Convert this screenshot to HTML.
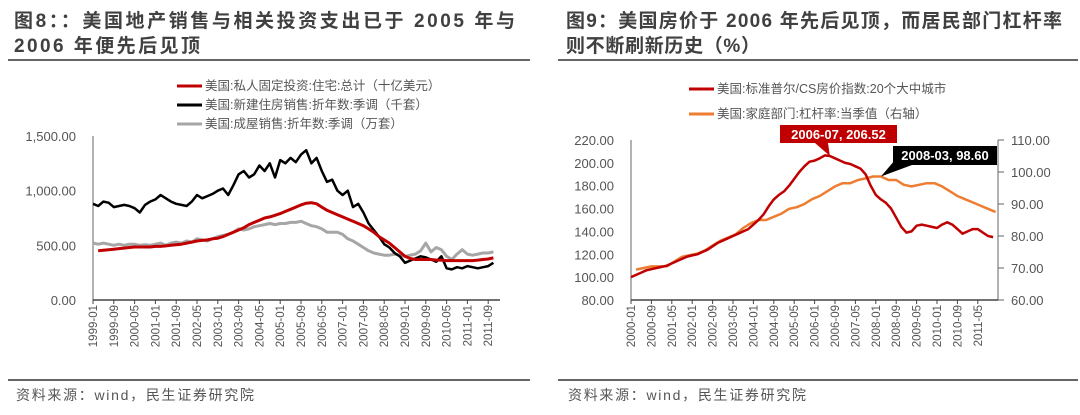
<!DOCTYPE html>
<html><head><meta charset="utf-8"><style>
body{margin:0;width:1080px;height:410px;background:#fff;overflow:hidden;font-family:"Liberation Sans","Noto Sans CJK SC",sans-serif;}
svg text{font-family:"Liberation Sans","Noto Sans CJK SC",sans-serif;}
</style></head><body>
<svg id="s" width="1080" height="410">
<g font-size="19" font-weight="bold" fill="#404040">
<text x="14" y="27" textLength="501" lengthAdjust="spacing">图8：：美国地产销售与相关投资支出已于 2005 年与</text>
<text x="14" y="52" textLength="186" lengthAdjust="spacing">2006 年便先后见顶</text></g>
<g font-size="19" font-weight="bold" fill="#404040">
<text x="566" y="27" textLength="496" lengthAdjust="spacing">图9：美国房价于 2006 年先后见顶，而居民部门杠杆率</text>
<text x="566" y="52" textLength="194" lengthAdjust="spacing">则不断刷新历史（%）</text></g>
<rect x="8" y="59" width="522" height="2" fill="#666"/>
<rect x="558" y="59" width="520" height="2" fill="#666"/>
<rect x="8" y="379" width="522" height="2" fill="#666"/>
<rect x="558" y="379" width="520" height="2" fill="#666"/>
<text x="16" y="400" font-size="14" fill="#555" textLength="238" lengthAdjust="spacing">资料来源：wind，民生证券研究院</text>
<text x="568" y="400" font-size="14" fill="#555" textLength="238" lengthAdjust="spacing">资料来源：wind，民生证券研究院</text>
<g id="L"></g><g id="R"></g>
</svg>
<script>
// Left chart data (2-month steps from 1999-01)
const leftYTicks=[0,500,1000,1500];
const leftYLabels=["0.00","500.00","1,000.00","1,500.00"];
const leftXLabels=["1999-01","1999-09","2000-05","2001-01","2001-09","2002-05","2003-01","2003-09","2004-05","2005-01","2005-09","2006-05","2007-01","2007-09","2008-05","2009-01","2009-09","2010-05","2011-01","2011-09"];
const newHomeSales=[880,860,900,890,850,860, 870,860,840,800,870,900, 920,960,930,900,880,870, 860,900,960,930,950,970, 1000,1020,960,1050,1150,1180, 1120,1150,1230,1180,1250,1120, 1280,1250,1300,1260,1330,1370, 1250,1300,1180,1080,1100,1000, 960,1000,850,880,800,700, 640,580,510,480,430,400, 340,360,380,400,390,370, 350,400,290,280,300,290, 310,300,290,300,310,340];
const existingSales=[520,510,520,510,500,510, 500,510,510,500,505,500, 510,520,500,520,530,520, 540,530,560,550,540,560, 580,590,600,620,650,640, 650,670,680,690,700,690, 700,700,710,710,720,700, 680,670,650,620,620,620, 600,560,540,510,480,450, 430,420,410,410,420,410, 400,410,420,450,520,440, 480,460,400,370,420,460, 420,410,420,430,430,440];
const resInvestment=[null,450,455,460,465,470, 475,480,485,485,485,485, 490,490,495,500,505,510, 520,530,540,545,550,560, 565,580,600,620,640,660, 690,710,730,750,760,775, 790,810,830,850,870,885, 890,880,850,820,800,780, 760,740,720,700,680,650, 620,580,550,520,480,440, 400,380,370,370,370,370, 365,365,360,360,360,360, 360,360,365,370,375,385];
// Right chart data
const rightYTicks=[80,100,120,140,160,180,200,220];
const rightY2Ticks=[60,70,80,90,100,110];
const rightXLabels=["2000-01","2000-09","2001-05","2002-01","2002-09","2003-05","2004-01","2004-09","2005-05","2006-01","2006-09","2007-05","2008-01","2008-09","2009-05","2010-01","2010-09","2011-05"];
const csIndex=[100,102,104,106,107,108, 109,110,112,114,116,118, 119,120,122,124,127,130, 132,134,136,138,140,142, 146,150,155,162,168,172, 175,180,186,192,197,201, 202,204,206.52,206,204,202, 200,199,197,195,190,180, 172,168,165,160,152,144, 139,140,145,146,145,144, 143,146,148,146,142,138, 140,142,142,139,136,135];
const leverage=[69.5,70,70.5,70.5, 70.5,72,73.5,74, 74.5,75.5,77,78.5, 79.5,80.5,82.5,84, 85,85,86,87, 88.5,89,90,91.5, 92.5,94,95.5,96.5, 96.5,97.5,98,98.6, 98.6,97.5,97.5,96, 95.5,96,96.5,96.5, 95.5,94,92.5,91.5, 90.5,89.5,88.5,87.5];

const NS="http://www.w3.org/2000/svg";
function mk(p,t,a){const e=document.createElementNS(NS,t);for(const k in a)e.setAttribute(k,a[k]);p.appendChild(e);return e;}
function path(p,vals,xf,yf,col,w,name){let d="",pen=false;vals.forEach((v,i)=>{if(v==null){pen=false;return;}d+=(pen?"L":"M")+xf(i).toFixed(1)+","+yf(v).toFixed(1);pen=true;});
const e=mk(p,"path",{d:d,fill:"none",stroke:col,"stroke-width":w,"stroke-linejoin":"round"});

return e;}

// LEFT
const L=document.getElementById("L");
const lx0=93,lpm=2.6,ly=v=>300-v*164/1500,lx=m=>lx0+m*lpm;
mk(L,"line",{x1:lx0,y1:136,x2:lx0,y2:300,stroke:"#666","stroke-width":1});
mk(L,"line",{x1:lx0,y1:300,x2:500,y2:300,stroke:"#444","stroke-width":1.5});
leftYTicks.forEach((v,i)=>{const t=mk(L,"text",{x:76,y:ly(v)+5,"text-anchor":"end","font-size":13,fill:"#555"});t.textContent=leftYLabels[i];

});
leftXLabels.forEach((s,i)=>{const x=lx(i*8);mk(L,"line",{x1:x,y1:300,x2:x,y2:304,stroke:"#444"});
const t=mk(L,"text",{x:0,y:0,transform:`translate(${x+4},305) rotate(-90)`,"text-anchor":"end","font-size":11.5,fill:"#555"});t.textContent=s;

});
path(L,existingSales,i=>lx(i*2),ly,"#a6a6a6",3,"existing-sales-line");
path(L,newHomeSales,i=>lx(i*2),ly,"#000",2.5,"new-home-sales-line");
path(L,resInvestment,i=>lx(i*2),ly,"#c00000",3,"residential-investment-line");
[["#c00000","美国:私人固定投资:住宅:总计（十亿美元）"],["#000","美国:新建住房销售:折年数:季调（千套）"],["#a6a6a6","美国:成屋销售:折年数:季调（万套）"]].forEach((g,i)=>{
const y=86+i*19;const gg=mk(L,"g",{});


mk(gg,"line",{x1:177,y1:y,x2:202,y2:y,stroke:g[0],"stroke-width":3});
const t=mk(gg,"text",{x:205,y:y+4,"font-size":12.5,fill:"#555"});t.textContent=g[1];});

// RIGHT
const R=document.getElementById("R");
const rx0=631,rpm=2.55,rx=m=>rx0+m*rpm,ry=v=>300-(v-80)*160/140,ry2=v=>300-(v-60)*3.2;
mk(R,"line",{x1:rx0,y1:140,x2:rx0,y2:300,stroke:"#666"});
mk(R,"line",{x1:998,y1:140,x2:998,y2:300,stroke:"#666"});
mk(R,"line",{x1:rx0,y1:300,x2:998,y2:300,stroke:"#444","stroke-width":1.5});
rightYTicks.forEach(v=>{const t=mk(R,"text",{x:614,y:ry(v)+5,"text-anchor":"end","font-size":13,fill:"#555"});t.textContent=v.toFixed(2);

});
rightY2Ticks.forEach(v=>{mk(R,"line",{x1:998,y1:ry2(v),x2:1004,y2:ry2(v),stroke:"#666"});
const t=mk(R,"text",{x:1011,y:ry2(v)+5,"font-size":13,fill:"#555"});t.textContent=v.toFixed(2);

});
rightXLabels.forEach((s,i)=>{const x=rx(i*8);mk(R,"line",{x1:x,y1:300,x2:x,y2:304,stroke:"#444"});
const t=mk(R,"text",{x:0,y:0,transform:`translate(${x+4},305) rotate(-90)`,"text-anchor":"end","font-size":11.5,fill:"#555"});t.textContent=s;

});
path(R,leverage,i=>rx(2+i*3),ry2,"#ed7d31",2.5,"leverage-line");
path(R,csIndex,i=>rx(i*2),ry,"#c00000",2.5,"cs-index-line");
[["#c00000","美国:标准普尔/CS房价指数:20个大中城市"],["#ed7d31","美国:家庭部门:杠杆率:当季值（右轴）"]].forEach((g,i)=>{
const y=89+i*25;const gg=mk(R,"g",{});


mk(gg,"line",{x1:689,y1:y,x2:714,y2:y,stroke:g[0],"stroke-width":3});
const t=mk(gg,"text",{x:717,y:y+4,"font-size":12.5,fill:"#555"});t.textContent=g[1];});
// annotations
const px=rx(78),py=ry(csIndex[39]);
const a1=mk(R,"g",{});
mk(a1,"polygon",{points:`815,143 828,143 ${px},${py}`,fill:"#c00000"});
mk(a1,"rect",{x:780,y:125,width:117,height:18,fill:"#c00000"});
let t=mk(a1,"text",{x:838.5,y:139,"text-anchor":"middle","font-size":13,"font-weight":"bold",fill:"#fff"});t.textContent="2006-07, 206.52";
const qx=rx(98),qy=ry2(98.6);
const a2=mk(R,"g",{});
mk(a2,"polygon",{points:`895,160 912,165 ${qx},${qy}`,fill:"#000"});
mk(a2,"rect",{x:893,y:146,width:104,height:19,fill:"#000"});
t=mk(a2,"text",{x:945,y:160,"text-anchor":"middle","font-size":13,"font-weight":"bold",fill:"#fff"});t.textContent="2008-03, 98.60";
</script>
</body></html>
